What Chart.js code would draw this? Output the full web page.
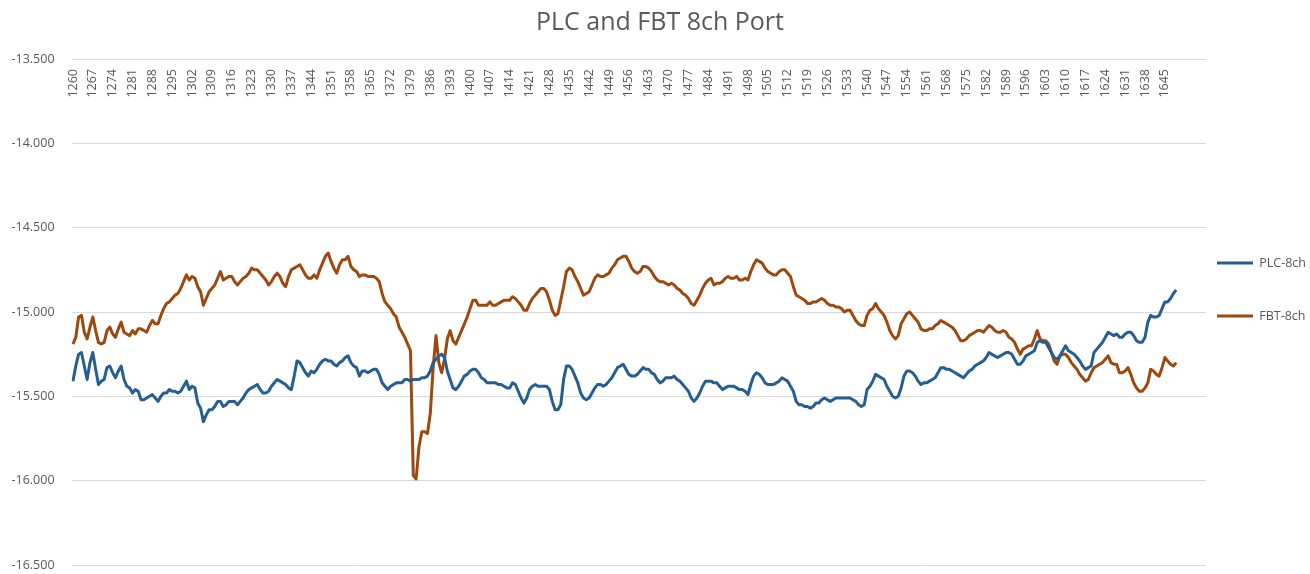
<!DOCTYPE html>
<html>
<head>
<meta charset="utf-8">
<title>PLC and FBT 8ch Port</title>
<script src="https://cdn.jsdelivr.net/npm/chart.js@4.4.1/dist/chart.umd.min.js"></script>
<style>
  html, body { margin: 0; padding: 0; background: #ffffff; }
  #portChart { display: block; }
</style>
</head>
<body>
<canvas id="portChart" width="1310" height="574"></canvas>
<script>
// 파장 (nm) 1260 ~ 1649
const wavelengths = Array.from({ length: 390 }, (_, i) => 1260 + i);

// x축 눈금 (7nm 간격)
const xTickLabels = wavelengths.filter((w, i) => i % 7 === 0);

// y축 눈금
const yMin = -16.5;
const yMax = -13.5;
const yStep = 0.5;

const plcValues = [
  -15.41, -15.32, -15.25, -15.24, -15.32, -15.40, -15.30, -15.24, -15.34, -15.43,
  -15.41, -15.40, -15.33, -15.32, -15.36, -15.39, -15.35, -15.32, -15.40, -15.44,
  -15.45, -15.48, -15.46, -15.47, -15.52, -15.52, -15.51, -15.50, -15.49, -15.51,
  -15.53, -15.50, -15.48, -15.48, -15.46, -15.47, -15.47, -15.48, -15.47, -15.44,
  -15.41, -15.46, -15.44, -15.45, -15.54, -15.57, -15.65, -15.61, -15.58, -15.58,
  -15.56, -15.53, -15.53, -15.56, -15.55, -15.53, -15.53, -15.53, -15.55, -15.53,
  -15.51, -15.48, -15.46, -15.45, -15.44, -15.43, -15.46, -15.48, -15.48, -15.47,
  -15.44, -15.42, -15.40, -15.41, -15.42, -15.43, -15.45, -15.46, -15.38, -15.29,
  -15.30, -15.33, -15.36, -15.38, -15.35, -15.36, -15.34, -15.31, -15.29, -15.28,
  -15.29, -15.29, -15.31, -15.32, -15.30, -15.29, -15.27, -15.26, -15.30, -15.32,
  -15.33, -15.38, -15.35, -15.35, -15.36, -15.35, -15.34, -15.34, -15.37, -15.42,
  -15.44, -15.46, -15.44, -15.43, -15.42, -15.42, -15.42, -15.40, -15.40, -15.41,
  -15.40, -15.40, -15.40, -15.39, -15.39, -15.38, -15.35, -15.30, -15.28, -15.26,
  -15.25, -15.27, -15.35, -15.40, -15.45, -15.46, -15.44, -15.41, -15.38, -15.37,
  -15.35, -15.34, -15.34, -15.36, -15.39, -15.40, -15.42, -15.42, -15.42, -15.42,
  -15.43, -15.43, -15.44, -15.45, -15.45, -15.42, -15.43, -15.47, -15.51, -15.54,
  -15.51, -15.46, -15.44, -15.43, -15.44, -15.44, -15.44, -15.44, -15.46, -15.53,
  -15.58, -15.58, -15.55, -15.40, -15.32, -15.32, -15.34, -15.38, -15.42, -15.48,
  -15.51, -15.52, -15.51, -15.48, -15.45, -15.43, -15.43, -15.44, -15.43, -15.41,
  -15.39, -15.36, -15.33, -15.32, -15.31, -15.34, -15.37, -15.38, -15.38, -15.37,
  -15.35, -15.33, -15.34, -15.34, -15.36, -15.37, -15.40, -15.42, -15.41, -15.39,
  -15.39, -15.39, -15.38, -15.40, -15.41, -15.43, -15.45, -15.47, -15.51, -15.53,
  -15.51, -15.48, -15.44, -15.41, -15.41, -15.41, -15.42, -15.42, -15.44, -15.46,
  -15.45, -15.44, -15.44, -15.44, -15.45, -15.46, -15.46, -15.47, -15.49, -15.43,
  -15.38, -15.36, -15.37, -15.39, -15.42, -15.43, -15.43, -15.43, -15.42, -15.41,
  -15.39, -15.40, -15.41, -15.44, -15.47, -15.53, -15.55, -15.55, -15.56, -15.56,
  -15.57, -15.56, -15.54, -15.54, -15.52, -15.51, -15.52, -15.53, -15.52, -15.51,
  -15.51, -15.51, -15.51, -15.51, -15.51, -15.52, -15.53, -15.55, -15.56, -15.55,
  -15.46, -15.44, -15.41, -15.37, -15.38, -15.39, -15.40, -15.44, -15.47, -15.50,
  -15.51, -15.50, -15.45, -15.38, -15.35, -15.35, -15.36, -15.38, -15.41, -15.43,
  -15.42, -15.42, -15.41, -15.40, -15.39, -15.36, -15.33, -15.33, -15.34, -15.34,
  -15.35, -15.36, -15.37, -15.38, -15.39, -15.37, -15.35, -15.34, -15.32, -15.31,
  -15.30, -15.29, -15.27, -15.24, -15.25, -15.26, -15.27, -15.26, -15.25, -15.24,
  -15.24, -15.25, -15.28, -15.31, -15.31, -15.29, -15.26, -15.25, -15.24, -15.23,
  -15.18, -15.17, -15.18, -15.18, -15.21, -15.24, -15.27, -15.28, -15.26, -15.23,
  -15.20, -15.23, -15.24, -15.25, -15.27, -15.29, -15.32, -15.34, -15.33, -15.32,
  -15.24, -15.22, -15.20, -15.18, -15.15, -15.12, -15.13, -15.14, -15.13, -15.15,
  -15.15, -15.13, -15.12, -15.12, -15.14, -15.17, -15.18, -15.18, -15.15, -15.06,
  -15.02, -15.03, -15.03, -15.02, -14.98, -14.94, -14.94, -14.92, -14.89, -14.87
];

const fbtValues = [
  -15.19, -15.15, -15.03, -15.02, -15.12, -15.16, -15.09, -15.03, -15.11, -15.18,
  -15.19, -15.18, -15.11, -15.09, -15.13, -15.15, -15.10, -15.06, -15.12, -15.13,
  -15.14, -15.11, -15.13, -15.10, -15.10, -15.11, -15.12, -15.08, -15.05, -15.07,
  -15.07, -15.02, -14.98, -14.95, -14.94, -14.92, -14.90, -14.89, -14.86, -14.82,
  -14.78, -14.81, -14.79, -14.80, -14.85, -14.88, -14.96, -14.92, -14.88, -14.86,
  -14.84, -14.80, -14.76, -14.81, -14.80, -14.79, -14.79, -14.82, -14.84, -14.82,
  -14.80, -14.79, -14.77, -14.74, -14.75, -14.75, -14.77, -14.79, -14.81, -14.84,
  -14.82, -14.79, -14.77, -14.79, -14.83, -14.85, -14.79, -14.75, -14.74, -14.73,
  -14.72, -14.75, -14.78, -14.80, -14.80, -14.78, -14.80, -14.75, -14.71, -14.67,
  -14.65, -14.70, -14.74, -14.77, -14.72, -14.69, -14.69, -14.67, -14.73, -14.75,
  -14.76, -14.79, -14.78, -14.78, -14.79, -14.79, -14.79, -14.80, -14.82, -14.89,
  -14.94, -14.96, -14.98, -15.01, -15.03, -15.09, -15.12, -15.15, -15.19, -15.23,
  -15.97, -15.99, -15.80, -15.71, -15.71, -15.72, -15.60, -15.33, -15.14, -15.30,
  -15.36, -15.28, -15.16, -15.11, -15.17, -15.19, -15.15, -15.11, -15.07, -15.03,
  -14.98, -14.93, -14.93, -14.96, -14.96, -14.96, -14.96, -14.94, -14.96, -14.96,
  -14.95, -14.94, -14.93, -14.93, -14.93, -14.91, -14.92, -14.94, -14.96, -14.99,
  -14.99, -14.95, -14.92, -14.90, -14.88, -14.86, -14.86, -14.88, -14.93, -14.99,
  -15.02, -15.01, -14.93, -14.85, -14.76, -14.74, -14.75, -14.79, -14.82, -14.86,
  -14.90, -14.89, -14.88, -14.84, -14.80, -14.78, -14.79, -14.79, -14.78, -14.77,
  -14.74, -14.72, -14.69, -14.68, -14.67, -14.67, -14.70, -14.74, -14.76, -14.77,
  -14.76, -14.73, -14.73, -14.74, -14.76, -14.79, -14.81, -14.82, -14.82, -14.83,
  -14.84, -14.83, -14.84, -14.86, -14.87, -14.89, -14.90, -14.92, -14.95, -14.96,
  -14.93, -14.90, -14.86, -14.83, -14.81, -14.80, -14.84, -14.83, -14.83, -14.82,
  -14.80, -14.79, -14.80, -14.80, -14.79, -14.81, -14.81, -14.80, -14.81, -14.76,
  -14.72, -14.69, -14.70, -14.71, -14.74, -14.76, -14.77, -14.78, -14.78, -14.76,
  -14.75, -14.75, -14.77, -14.79, -14.85, -14.90, -14.91, -14.92, -14.93, -14.95,
  -14.95, -14.94, -14.94, -14.93, -14.92, -14.93, -14.95, -14.96, -14.96, -14.97,
  -14.97, -14.98, -15.00, -14.99, -14.99, -15.02, -15.05, -15.07, -15.08, -15.08,
  -15.02, -14.99, -14.98, -14.95, -14.98, -15.00, -15.02, -15.06, -15.11, -15.14,
  -15.16, -15.14, -15.07, -15.04, -15.01, -15.00, -15.02, -15.04, -15.06, -15.10,
  -15.11, -15.11, -15.10, -15.10, -15.08, -15.07, -15.05, -15.06, -15.07, -15.08,
  -15.09, -15.11, -15.14, -15.17, -15.17, -15.16, -15.14, -15.13, -15.12, -15.11,
  -15.11, -15.12, -15.10, -15.08, -15.09, -15.11, -15.12, -15.12, -15.11, -15.12,
  -15.15, -15.16, -15.18, -15.22, -15.25, -15.22, -15.21, -15.20, -15.20, -15.16,
  -15.11, -15.16, -15.17, -15.17, -15.19, -15.24, -15.29, -15.31, -15.26, -15.25,
  -15.25, -15.27, -15.30, -15.32, -15.34, -15.37, -15.39, -15.41, -15.40, -15.36,
  -15.33, -15.32, -15.31, -15.30, -15.28, -15.26, -15.30, -15.31, -15.31, -15.36,
  -15.36, -15.35, -15.33, -15.37, -15.42, -15.45, -15.47, -15.47, -15.45, -15.42,
  -15.34, -15.35, -15.37, -15.38, -15.33, -15.27, -15.29, -15.31, -15.32, -15.30
];

const textGray = "#595959";
const baseFont = "'Open Sans', 'Liberation Sans', sans-serif";

// 범례 항목 (간격을 넓게 잡기 위해 배열 텍스트 사용)
function legendLabels(chart) {
  const items = Chart.defaults.plugins.legend.labels.generateLabels(chart);
  items.forEach((item) => { item.text = [item.text]; });
  return items;
}

const ctx = document.getElementById("portChart").getContext("2d");
const portChart = new Chart(ctx, {
  type: "line",
  data: {
    datasets: [
      {
        label: "PLC-8ch",
        data: wavelengths.map((w, i) => ({ x: w, y: plcValues[i] })),
        borderColor: "#255E91",
        backgroundColor: "#255E91",
        borderWidth: 3,
        borderJoinStyle: "round",
        pointRadius: 0,
        tension: 0,
        fill: false,
      },
      {
        label: "FBT-8ch",
        data: wavelengths.map((w, i) => ({ x: w, y: fbtValues[i] })),
        borderColor: "#9E480E",
        backgroundColor: "#9E480E",
        borderWidth: 3,
        borderJoinStyle: "round",
        pointRadius: 0,
        tension: 0,
        fill: false,
      },
    ],
  },
  options: {
    responsive: false,
    animation: false,
    devicePixelRatio: 1,
    layout: { padding: { left: 10, right: 0, top: 0, bottom: 0 } },
    scales: {
      x: {
        type: "linear",
        position: { y: yMax }, // 엑셀처럼 가로축을 -13.5 위치에
        min: wavelengths[0] - 0.5,
        max: wavelengths[0] + 399.5,
        afterBuildTicks: (scale) => {
          scale.ticks = xTickLabels.map((v) => ({ value: v }));
        },
        afterFit: (scale) => {
          // 회전 라벨이 왼쪽 여백을 밀어내지 않도록
          scale.paddingLeft = 0;
          scale.paddingRight = 0;
        },
        grid: { display: false, drawTicks: false },
        border: { display: false },
        ticks: {
          autoSkip: false,
          minRotation: 90,
          maxRotation: 90,
          padding: 10,
          color: textGray,
          font: { family: baseFont, size: 12.5 },
          callback: (v) => String(v),
        },
      },
      y: {
        min: yMin,
        max: yMax,
        grid: {
          color: "#D9D9D9",
          lineWidth: 1,
          tickLength: 15.5,
          tickColor: "rgba(0,0,0,0)",
        },
        border: { display: false },
        ticks: {
          stepSize: yStep,
          padding: 1.5,
          color: textGray,
          font: { family: baseFont, size: 12.5 },
          callback: (v) => v.toFixed(3),
        },
      },
    },
    plugins: {
      title: {
        display: true,
        text: "PLC and FBT 8ch Port",
        color: textGray,
        font: { family: baseFont, size: 25, weight: "normal" },
        padding: { top: 8, bottom: 21 },
      },
      legend: {
        position: "right",
        align: "center",
        maxWidth: 104,
        title: { display: true, text: "", padding: { top: 0, bottom: 20 } },
        labels: {
          usePointStyle: true,
          pointStyle: "line",
          pointStyleWidth: 36,
          padding: 11,
          color: textGray,
          font: { family: baseFont, size: 12.5, lineHeight: 3.36 },
          generateLabels: legendLabels,
        },
      },
      tooltip: { enabled: false },
    },
  },
});
</script>
</body>
</html>
